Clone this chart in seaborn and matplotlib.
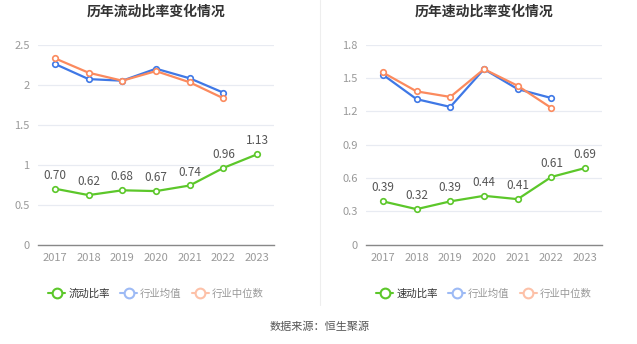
import matplotlib
matplotlib.use("Agg")
import matplotlib.pyplot as plt
import seaborn as sns
import pandas as pd
from matplotlib.lines import Line2D

sns.set_theme(style="white")
plt.rcParams['font.family'] = ['Noto Sans CJK SC', 'DejaVu Sans']
plt.rcParams['axes.unicode_minus'] = False

years = ["2017", "2018", "2019", "2020", "2021", "2022", "2023"]

current_ratio = [0.70, 0.62, 0.68, 0.67, 0.74, 0.96, 1.13]
current_avg = [2.26, 2.07, 2.05, 2.20, 2.08, 1.90]
current_median = [2.33, 2.15, 2.05, 2.17, 2.03, 1.83]

quick_ratio = [0.39, 0.32, 0.39, 0.44, 0.41, 0.61, 0.69]
quick_avg = [1.53, 1.31, 1.24, 1.58, 1.40, 1.32]
quick_median = [1.55, 1.38, 1.33, 1.58, 1.43, 1.23]

titles = ["历年流动比率变化情况", "历年速动比率变化情况"]
main_names = ["流动比率", "速动比率"]
avg_name = "行业均值"
med_name = "行业中位数"
yticks_list = [[0, 0.5, 1, 1.5, 2, 2.5], [0, 0.3, 0.6, 0.9, 1.2, 1.5, 1.8]]
ytick_labels_list = [["0", "0.5", "1", "1.5", "2", "2.5"],
                     ["0", "0.3", "0.6", "0.9", "1.2", "1.5", "1.8"]]

GREEN = "#5cc72a"
BLUE = "#3f78e6"
ORANGE = "#fb8a5e"
BLUE_L = "#9dbaf5"
ORANGE_L = "#fdc1a8"

W, H = 637, 344
fig = plt.figure(figsize=(W / 100, H / 100), dpi=100)

ax_left_px = [38, 366]
ax_w_px = 236
ax_top_px = 44.7
ax_bot_px = 244.7

datasets = [
    (current_ratio, current_avg, current_median),
    (quick_ratio, quick_avg, quick_median),
]

for i in range(2):
    main, avg, med = datasets[i]
    ax = fig.add_axes([ax_left_px[i] / W, (H - ax_bot_px) / H, ax_w_px / W,
                       (ax_bot_px - ax_top_px) / H])
    x = list(range(len(years)))
    df_main = pd.DataFrame({"x": x, "y": main})
    df_avg = pd.DataFrame({"x": x[:len(avg)], "y": avg})
    df_med = pd.DataFrame({"x": x[:len(med)], "y": med})
    for df, c in [(df_avg, BLUE), (df_med, ORANGE), (df_main, GREEN)]:
        sns.lineplot(data=df, x="x", y="y", ax=ax, color=c, linewidth=1.6,
                     marker="o", markersize=4, markerfacecolor="white",
                     markeredgecolor=c, markeredgewidth=1.2, zorder=3)
    for xi, yi in zip(x, main):
        ax.annotate(f"{yi:.2f}", (xi, yi), xytext=(0, 5), textcoords="offset points",
                    ha="center", va="bottom", fontsize=8.5, color="#555555")
    ax.set_xlim(-0.5, len(years) - 0.5)
    ax.set_ylim(yticks_list[i][0], yticks_list[i][-1])
    ax.set_xticks(x)
    ax.set_xticklabels(years)
    ax.set_yticks(yticks_list[i])
    ax.set_yticklabels(ytick_labels_list[i])
    ax.set_xlabel("")
    ax.set_ylabel("")
    ax.tick_params(axis="both", labelsize=8, colors="#999999", length=0, pad=6)
    ax.tick_params(axis="x", length=3, color="#888888", pad=3)
    ax.grid(axis="y", color="#e8ebf2", linewidth=0.9)
    ax.set_axisbelow(True)
    for s in ["top", "right", "left"]:
        ax.spines[s].set_visible(False)
    ax.spines["bottom"].set_color("#888888")
    ax.spines["bottom"].set_linewidth(1)
    cx = (ax_left_px[i] + ax_w_px / 2) / W
    fig.text(cx, 1 - 12 / H, titles[i], ha="center", va="center", fontsize=10,
             fontweight="bold", color="#333333")
    handles = [
        Line2D([], [], color=GREEN, marker="o", markersize=7, markerfacecolor="white",
               markeredgecolor=GREEN, markeredgewidth=1.5, linewidth=1.5),
        Line2D([], [], color=BLUE_L, marker="o", markersize=7, markerfacecolor="white",
               markeredgecolor=BLUE_L, markeredgewidth=1.5, linewidth=1.5),
        Line2D([], [], color=ORANGE_L, marker="o", markersize=7, markerfacecolor="white",
               markeredgecolor=ORANGE_L, markeredgewidth=1.5, linewidth=1.5),
    ]
    leg = fig.legend(handles, [main_names[i], avg_name, med_name],
                     loc="center", bbox_to_anchor=((ax_left_px[i] + 118) / W, 1 - 294 / H),
                     ncol=3, frameon=False, fontsize=7.5, handlelength=1.6,
                     handletextpad=0.3, columnspacing=1.0)
    for t, c in zip(leg.get_texts(), ["#333333", "#999999", "#999999"]):
        t.set_color(c)

fig.add_artist(Line2D([320 / W, 320 / W], [1 - 305 / H, 1.0], color="#eeeeee",
                      linewidth=0.8, transform=fig.transFigure))
fig.text(320 / W, 1 - 327 / H, "数据来源：恒生聚源", ha="center", va="center",
         fontsize=8, color="#555555")

fig.savefig("out.png", dpi=100)
